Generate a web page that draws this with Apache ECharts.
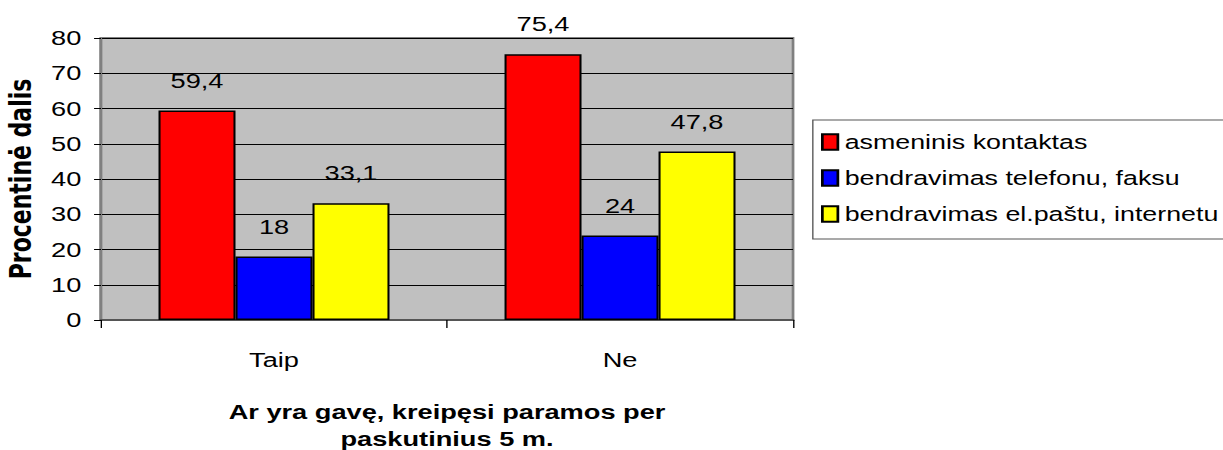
<!DOCTYPE html>
<html><head><meta charset="utf-8">
<script src="https://cdn.jsdelivr.net/npm/echarts@6/dist/echarts.min.js"></script>
<style>
html,body{margin:0;padding:0;background:#fff;overflow:hidden}
#c{width:899px;height:450px;transform:scaleX(1.3604);transform-origin:0 0}
</style>
</head><body><div id="c"></div>
<script>
const categories = ['Taip', 'Ne'];
const seriesNames = ['asmeninis kontaktas', 'bendravimas telefonu, faksu', 'bendravimas el.paštu, internetu'];
const asmeninis = [59.4, 75.4];
const telefonu = [18, 24];
const internetu = [33.1, 47.8];
const yTickValues = { min: 0, max: 80, step: 10 };
const yAxisName = 'Procentinė dalis';
const xAxisName = 'Ar yra gavę, kreipęsi paramos per\npaskutinius 5 m.';

const colors = ['#ff0000', '#0000ff', '#ffff00'];
const font = '"Liberation Sans", Arial, sans-serif';
const chart = echarts.init(document.getElementById('c'), null, { renderer: 'svg' });
const mk = (name, data, color) => ({
  name, type: 'bar', data, barWidth: 56.6, barGap: '0%',
  itemStyle: { color, borderColor: '#000', borderWidth: 1.5 },
  label: { show: true, position: 'top', distance: 20, color: '#000', fontSize: 20, fontFamily: font,
    formatter: p => String(p.value).replace('.', ',') }
});
chart.setOption({
  animation: false,
  textStyle: { fontFamily: font },
  grid: { left: 74.24, width: 508.7, top: 38, height: 282, containLabel: false, outerBoundsMode: 'none',
    show: true, backgroundColor: '#c0c0c0', borderColor: '#808080', borderWidth: 2 },
  legend: {
    orient: 'vertical', left: 597.5, top: 120,
    padding: [12, 40, 15, 6], itemGap: 16,
    borderColor: '#555', borderWidth: 1, backgroundColor: '#fff',
    icon: 'rect', itemWidth: 11.4, itemHeight: 15.5,
    textStyle: { fontSize: 19.7, color: '#000', fontFamily: font },
    data: seriesNames
  },
  xAxis: {
    type: 'category', data: categories,
    name: xAxisName, nameLocation: 'middle', nameGap: 78,
    nameTextStyle: { fontSize: 20, fontWeight: 'bold', color: '#000', lineHeight: 27, fontFamily: font },
    axisLine: { lineStyle: { color: '#555', width: 2 } },
    axisTick: { show: true, length: 8, lineStyle: { color: '#000' } },
    axisLabel: { fontSize: 20, color: '#000', margin: 30 }
  },
  yAxis: {
    type: 'value', min: yTickValues.min, max: yTickValues.max, interval: yTickValues.step,
    name: yAxisName, nameLocation: 'middle', nameGap: 42,
    nameTextStyle: { fontSize: 22, fontWeight: 'bold', color: '#000', fontFamily: '"DejaVu Sans", sans-serif' },
    axisLine: { show: true, lineStyle: { color: '#808080', width: 2 } },
    axisTick: { show: true, length: 5.1, lineStyle: { color: '#000' } },
    axisLabel: { fontSize: 20, color: '#000', margin: 14.5 },
    splitLine: { lineStyle: { color: '#000', width: 1 } }
  },
  series: [
    mk(seriesNames[0], asmeninis, colors[0]),
    mk(seriesNames[1], telefonu, colors[1]),
    mk(seriesNames[2], internetu, colors[2])
  ]
});
</script></body></html>
